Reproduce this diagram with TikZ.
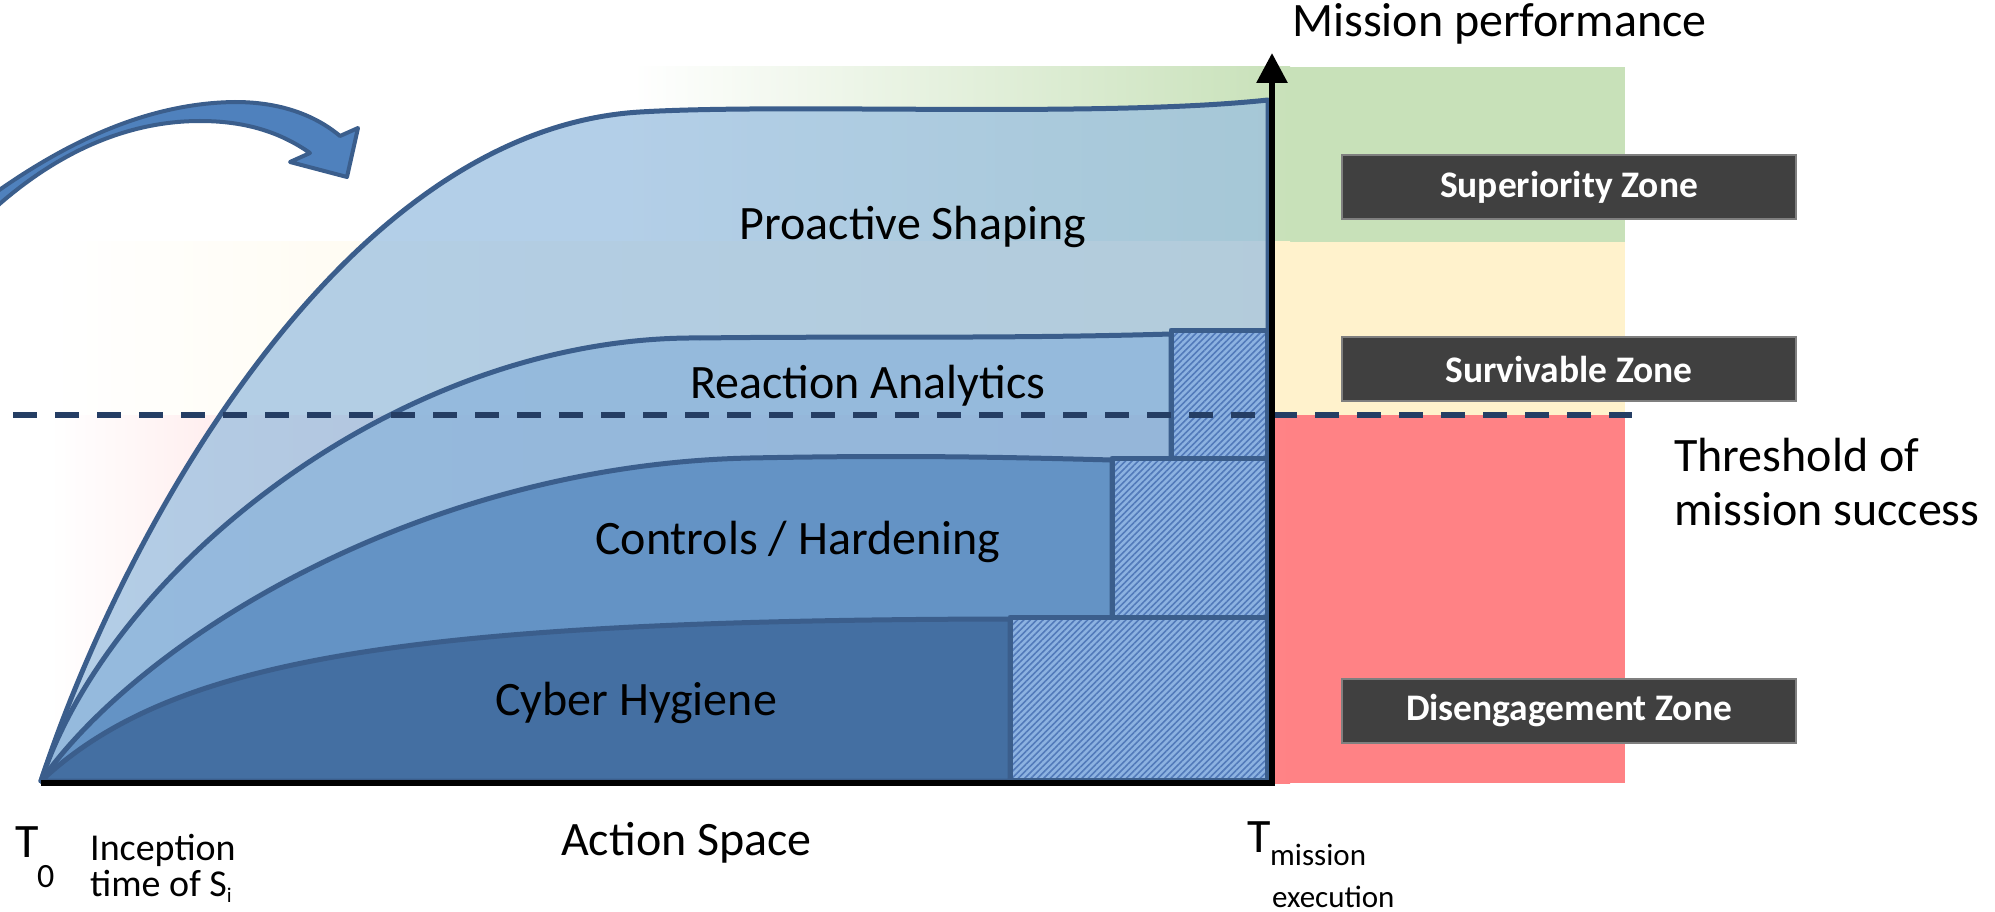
\documentclass[tikz,border=0pt]{standalone}
\usepackage{fontspec}
\setmainfont{Carlito}
\usetikzlibrary{arrows.meta,patterns.meta}

\definecolor{zgreen}{RGB}{200,225,185}
\definecolor{zyellow}{RGB}{255,242,204}
\definecolor{zred}{RGB}{255,130,133}
\definecolor{edgeblue}{RGB}{59,94,140}
\definecolor{problue}{RGB}{154,191,224}
\definecolor{reablue}{RGB}{144,183,220}
\definecolor{conblue}{RGB}{100,147,197}
\definecolor{hygblue}{RGB}{68,111,162}
\definecolor{arrowblue}{RGB}{79,129,189}
\definecolor{hatchbase}{RGB}{140,178,225}
\definecolor{hatchline}{RGB}{82,122,186}
\definecolor{threshold}{RGB}{37,62,100}
\definecolor{zonebox}{RGB}{64,64,64}
\definecolor{zoneedge}{RGB}{127,127,127}

\begin{document}
\begin{tikzpicture}[x=1pt,y=-1pt,
  layer/.style={draw=edgeblue,line width=5pt,line join=round},
  hatchbox/.style={draw=edgeblue,line width=5pt,line join=round,
    preaction={fill=hatchbase},
    pattern={Lines[angle=45,distance=4.5pt,line width=1.6pt]},pattern color=hatchline},
  axisline/.style={line width=6pt,black},
  big/.style={inner sep=0pt,font=\fontsize{48}{54}\selectfont},
  small/.style={inner sep=0pt,font=\fontsize{38}{38}\selectfont},
  sub/.style={inner sep=0pt,font=\fontsize{31}{31}\selectfont},
  zonelabel/.style={fill=zonebox,draw=zoneedge,line width=2.5pt,text=white,
    font=\fontsize{37.5}{40}\selectfont\bfseries,minimum width=454pt,
    minimum height=64pt,inner sep=0pt},
]
\useasboundingbox (0,0) rectangle (1995,912);

% zone bands, fading in from the left
\shade[left color=white,right color=zgreen] (633,67) rectangle (1290,242);
\fill[zgreen] (1289,67) rectangle (1625,242);
\shade[left color=white,right color=zyellow] (50,242) rectangle (1290,415);
\fill[zyellow] (1289,242) rectangle (1625,415);
\shade[left color=white,right color=zred] (50,415) rectangle (1290,783);
\fill[zred] (1289,415) rectangle (1625,783);

% curved block arrow
\filldraw[fill=arrowblue,draw=edgeblue,line width=4pt,line join=round]
  (-5,193) .. controls (70,140) and (150,103) .. (235,102)
  .. controls (280,102) and (315,115) .. (340,136)
  -- (358,128) -- (347,177) -- (290,162) -- (310,153)
  .. controls (280,132) and (245,121) .. (200,121)
  .. controls (130,121) and (60,150) .. (-5,208) -- cycle;

% stacked capability layers
\coordinate (O) at (41,781);
\filldraw[layer,fill=problue,fill opacity=0.75]
  (O) .. controls (120,540) and (340,130) .. (640,112)
  .. controls (790,103) and (1100,118) .. (1268,100)
  -- (1268,781) -- cycle;
\filldraw[layer,fill=reablue,fill opacity=0.85]
  (O) .. controls (110,570) and (400,335) .. (700,338)
  .. controls (850,336) and (1000,339) .. (1171,334)
  -- (1171,781) -- cycle;
\filldraw[layer,fill=conblue]
  (O) .. controls (140,640) and (420,465) .. (750,458)
  .. controls (900,455) and (1000,457) .. (1112,460)
  -- (1112,781) -- cycle;
\filldraw[layer,fill=hygblue]
  (O) .. controls (170,660) and (400,620) .. (1010,619)
  -- (1010,781) -- cycle;

% hatched reserve blocks
\draw[hatchbox] (1010,617) rectangle (1267,780);
\draw[hatchbox] (1112,458) rectangle (1267,617);
\draw[hatchbox] (1171,330) rectangle (1267,458);

% threshold of mission success
\coordinate (thrL) at (13,415);
\coordinate (thrR) at (1632,415);
\draw[threshold,line width=6pt,dash pattern=on 24pt off 18pt] (thrL) -- (thrR);

% axes
\coordinate (xstart) at (41,783);
\coordinate (xend) at (1275,783);
\coordinate (ybot) at (1272,786);
\coordinate (ytop) at (1272,53);
\draw[axisline] (xstart) -- (xend);
\draw[axisline,-{Triangle[width=30pt,length=30pt]}] (ybot) -- (ytop);

% layer labels
\node[big,anchor=base] (pro) at (913,240) {Proactive Shaping};
\node[big,anchor=base west] (rea) at (690,398) {Reaction Analytics};
\node[big,anchor=base west] (con) at (595,554) {Controls / Hardening};
\node[big,anchor=base west] (hyg) at (495,715) {Cyber Hygiene};

% axis labels
\node[big,anchor=base west] (perf) at (1292,37) {Mission performance};
\node[big,anchor=base west] (act) at (561,855) {Action Space};
\node[big,anchor=base west] (t0) at (15,857) {T};
\node[sub,anchor=base west,font=\fontsize{34}{34}\selectfont] (t0sub) at (37,887) {0};
\node[small,anchor=base west] (inc1) at (90,860) {Inception};
\node[small,anchor=base west] (inc2) at (90,896)
  {time of S\raisebox{-6pt}{\fontsize{21}{21}\selectfont i}};
\node[big,anchor=base west] (tm) at (1247,852) {T};
\node[sub,anchor=base west] (tmsub1) at (1270,865) {mission};
\node[sub,anchor=base west] (tmsub2) at (1272,907) {execution};

% threshold label
\node[big,anchor=base west] (thr1) at (1674,471) {Threshold of};
\node[big,anchor=base west] (thr2) at (1674,525) {mission success};

% zone tags
\node[zonelabel] (sup) at (1569,187) {Superiority Zone};
\node[zonelabel] (sur) at (1569,369) {Survivable Zone};
\node[zonelabel] (dis) at (1569,711) {Disengagement Zone};
\end{tikzpicture}
\end{document}
